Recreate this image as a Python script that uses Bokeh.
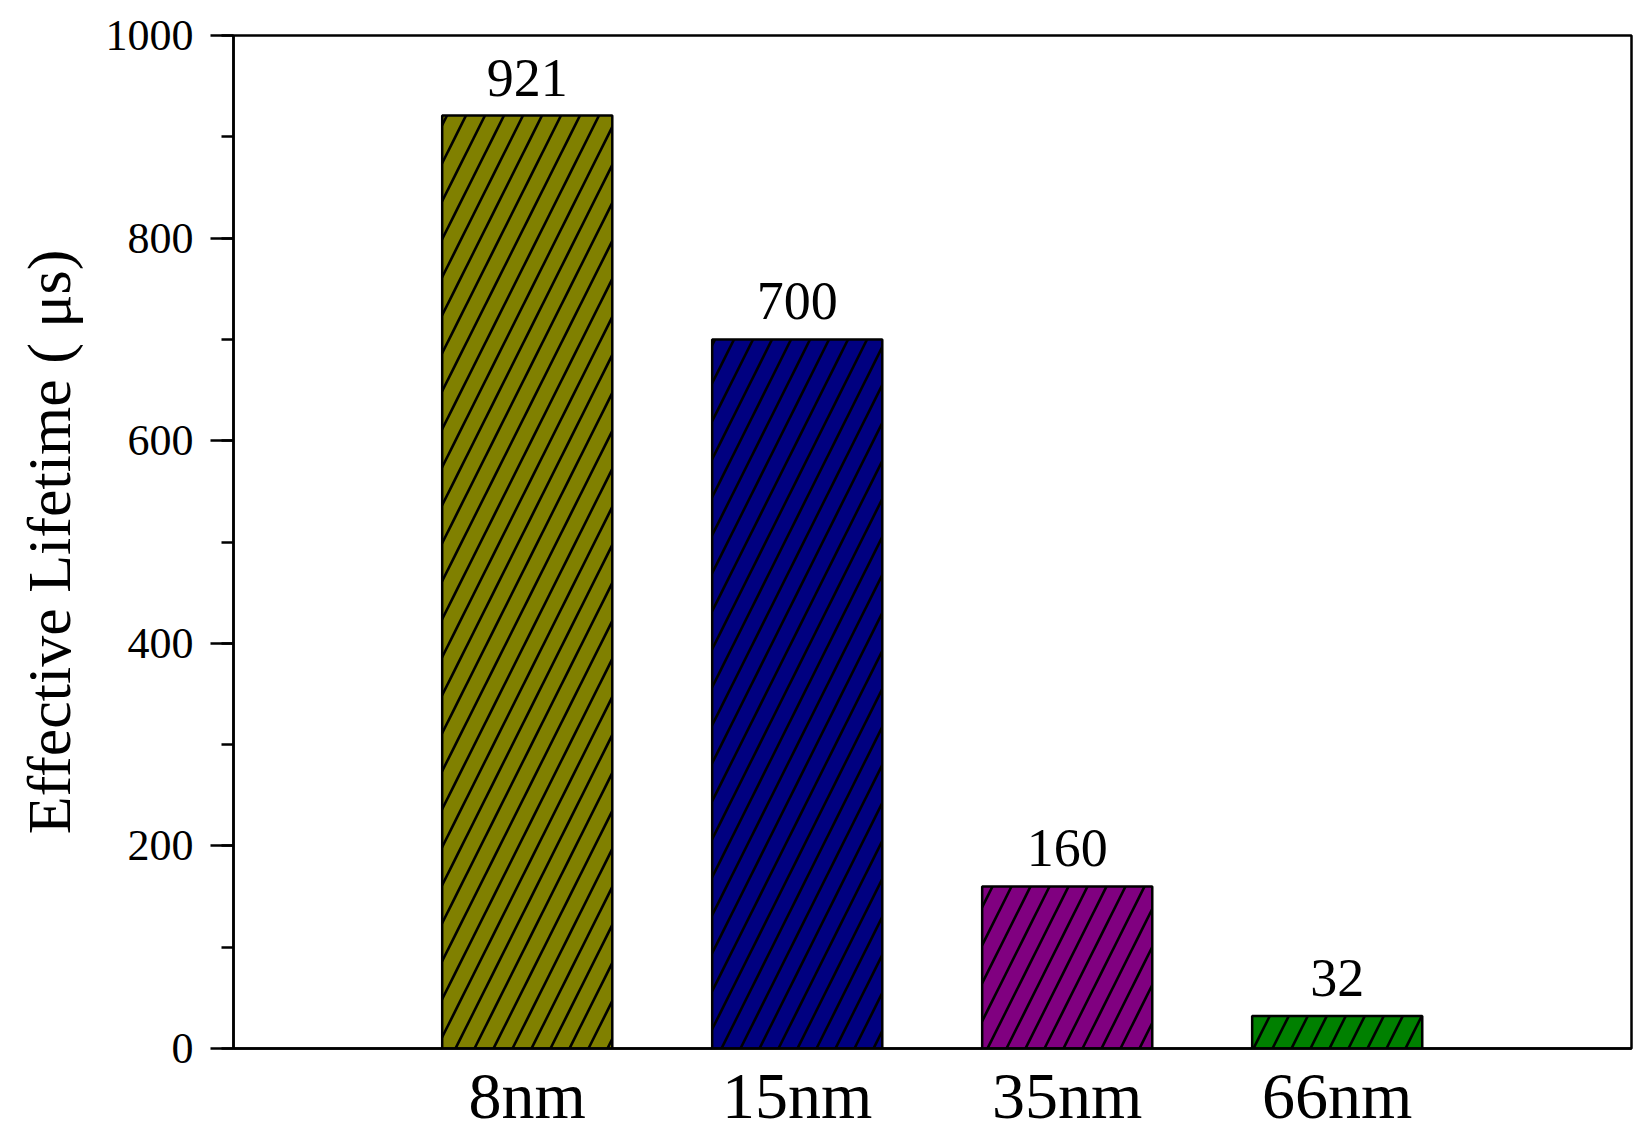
from bokeh.plotting import figure
from bokeh.models import Range1d, FixedTicker, SingleIntervalTicker, ColumnDataSource
from bokeh.core.properties import value
from bokeh.embed import file_html
from bokeh.resources import INLINE

categories = ["8nm", "15nm", "35nm", "66nm"]
positions = [1, 2, 3, 4]
lifetimes = [921, 700, 160, 32]
bar_colors = ["#808000", "#000080", "#800080", "#008000"]
y_ticks = [0, 200, 400, 600, 800, 1000]

FONT = "Liberation Serif"

src = ColumnDataSource(dict(x=positions, top=lifetimes, color=bar_colors,
                            label=[str(v) for v in lifetimes]))

p = figure(frame_width=1398, frame_height=1013,
           x_range=Range1d(-0.088, 5.09), y_range=Range1d(0, 1000),
           output_backend="svg", toolbar_location=None,
           min_border_left=233, min_border_top=35, min_border_right=5, min_border_bottom=78)

p.vbar(x="x", top="top", bottom=0, width=0.63, source=src,
       fill_color="color", line_color="black", line_width=2.5,
       hatch_pattern="/", hatch_color="black", hatch_scale=38, hatch_weight=2.6)

p.text(x="x", y="top", text="label", source=src, y_offset=-20,
       text_align="center", text_baseline="bottom",
       text_font=value(FONT), text_font_size="54px", text_color="black")

p.grid.visible = False
p.outline_line_color = "black"
p.outline_line_width = 2.5
p.background_fill_color = "white"
p.border_fill_color = "white"

xa = p.xaxis[0]
xa.ticker = FixedTicker(ticks=positions)
xa.major_label_overrides = {pos: c for pos, c in zip(positions, categories)}
xa.major_tick_line_color = None
xa.minor_tick_line_color = None
xa.major_tick_out = 0
xa.major_tick_in = 0
xa.axis_line_width = 2.5
xa.major_label_text_font = FONT
xa.major_label_text_font_size = "66px"
xa.major_label_text_color = "black"
xa.major_label_standoff = 10

ya = p.yaxis[0]
ya.ticker = SingleIntervalTicker(interval=200, num_minor_ticks=2)
ya.axis_line_width = 2.5
ya.major_tick_line_width = 2.5
ya.minor_tick_line_width = 2.5
ya.major_tick_out = 23
ya.major_tick_in = 0
ya.minor_tick_out = 12
ya.minor_tick_in = 0
ya.major_label_text_font = FONT
ya.major_label_text_font_size = "44px"
ya.major_label_text_color = "black"
ya.major_label_standoff = 17
ya.axis_label = "Effective Lifetime ( μs)"
ya.axis_label_text_font = FONT
ya.axis_label_text_font_size = "62px"
ya.axis_label_text_font_style = "normal"
ya.axis_label_text_color = "black"
ya.axis_label_standoff = 20

open("out.html", "w").write(file_html(p, INLINE))
